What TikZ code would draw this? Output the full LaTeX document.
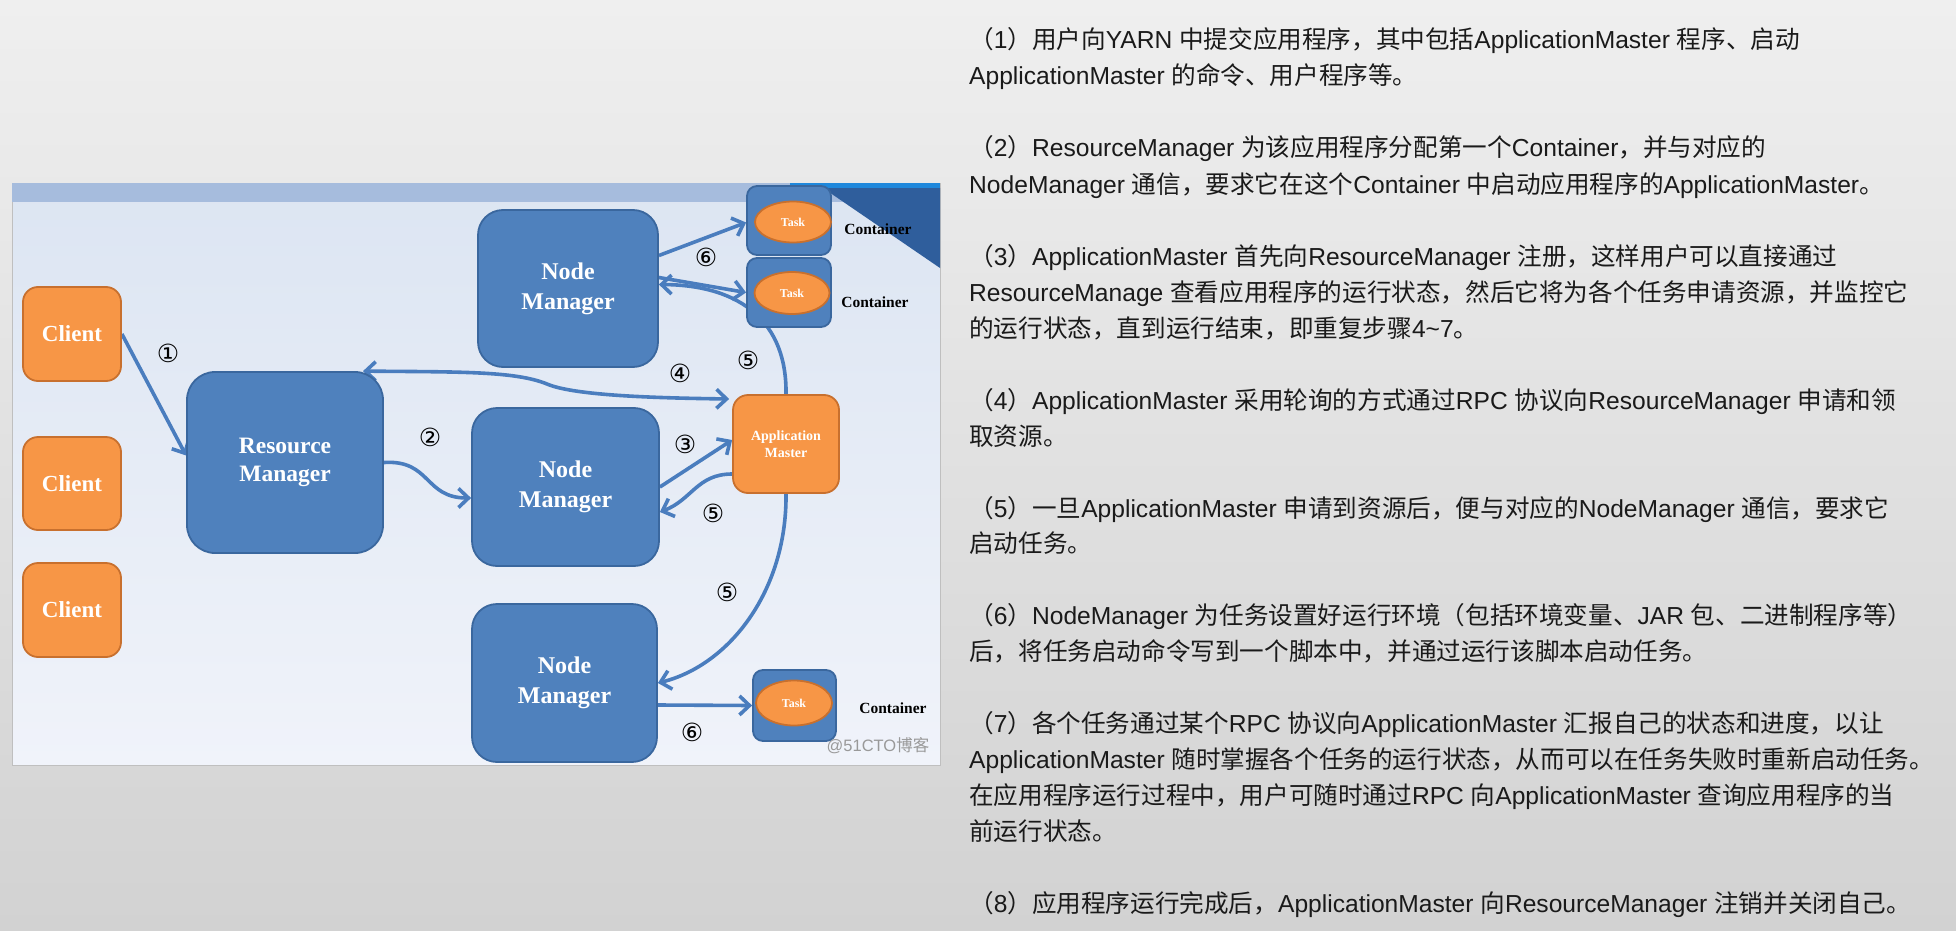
\documentclass[tikz,border=0pt]{standalone}
\usepackage{fontspec}
\setmainfont{Liberation Sans}
\newfontfamily\latinf{Liberation Sans}
\newfontfamily\cjkf{Noto Sans CJK SC}
\newfontfamily\serifb{Liberation Serif}
\newfontfamily\symf{DejaVu Sans}
\usetikzlibrary{arrows.meta,shapes.geometric,calc}
% automatic switch to the CJK font for CJK characters
\newXeTeXintercharclass\cjkcls
\newcount\cjkcnt
\cjkcnt="3000
\loop \XeTeXcharclass\cjkcnt=\cjkcls \ifnum\cjkcnt<"9FFF \advance\cjkcnt by 1 \repeat
\cjkcnt="FF00
\loop \XeTeXcharclass\cjkcnt=\cjkcls \ifnum\cjkcnt<"FFEF \advance\cjkcnt by 1 \repeat
\XeTeXinterchartoks 0 \cjkcls = {\cjkf}
\XeTeXinterchartoks 4095 \cjkcls = {\cjkf}
\XeTeXinterchartoks \cjkcls 0 = {\latinf}
\XeTeXinterchartoks \cjkcls 4095 = {\latinf}
\XeTeXinterchartokenstate=1

\definecolor{bgtop}{HTML}{EFEFEF}
\definecolor{bgbot}{HTML}{D2D2D2}
\definecolor{paneltop}{HTML}{DCE5F2}
\definecolor{panelbot}{HTML}{F0F3FA}
\definecolor{banner}{HTML}{A6BCDD}
\definecolor{brightblue}{HTML}{1F88DC}
\definecolor{darkblue}{HTML}{2F5E9C}
\definecolor{boxblue}{HTML}{4F81BD}
\definecolor{boxedge}{HTML}{3A679E}
\definecolor{orangeF}{HTML}{F79646}
\definecolor{orangeE}{HTML}{C8702E}
\definecolor{arrblue}{HTML}{4A7DBE}
\definecolor{txtcol}{HTML}{1A1A1A}

\pgfdeclarelayer{back}
\pgfdeclarelayer{arrowlayer}
\pgfsetlayers{back,arrowlayer,main}

\tikzset{
  bluebox/.style={draw=boxedge, fill=boxblue, line width=1.8pt, text=white,
    font=\serifb\bfseries\fontsize{23.5}{29}\selectfont, align=center, inner sep=0pt},
  orangebox/.style={draw=orangeE, fill=orangeF, line width=1.8pt, text=white,
    font=\serifb\bfseries\fontsize{23}{27}\selectfont, align=center, inner sep=0pt},
  contbox/.style={draw=boxedge, fill=boxblue, line width=1.8pt, rounded corners=10pt, inner sep=0pt},
  taskell/.style={ellipse, draw=orangeE, fill=orangeF, line width=1.8pt, inner sep=0pt,
    text=white, font=\serifb\bfseries\fontsize{12}{14}\selectfont},
  contlabel/.style={text=black, font=\serifb\bfseries\fontsize{15.5}{18}\selectfont, inner sep=0pt},
  num/.style={text=black, font=\symf\fontsize{25}{25}\selectfont, inner sep=0pt},
  arr/.style={draw=arrblue, line width=3.6pt, ->},
  txt/.style={anchor=base west, inner sep=0pt, text=txtcol, font=\latinf\fontsize{24.6}{30}\selectfont},
  >={Straight Barb[length=10pt,width=19pt]}
}

\begin{document}
\begin{tikzpicture}[x=1pt,y=-1pt]
\useasboundingbox (0,0) rectangle (1956,931);

\begin{pgfonlayer}{back}
  \shade[top color=bgtop, bottom color=bgbot] (0,0) rectangle (1956,931);
  \shade[top color=paneltop, bottom color=panelbot] (12,183) rectangle (940,765);
  \draw[color=black!25, line width=1pt] (12,183) rectangle (940,765);
  \fill[banner] (12,183) rectangle (940,202);
  \fill[brightblue] (790,183) rectangle (940,188);
  \fill[darkblue] (823,188) -- (940,188) -- (940,268) -- cycle;
\end{pgfonlayer}

% left-hand nodes
\node[orangebox, rounded corners=15pt, minimum width=98pt, minimum height=94pt] (c1) at (72,334) {Client};
\node[orangebox, rounded corners=15pt, minimum width=98pt, minimum height=93pt] (c2) at (72,483.5) {Client};
\node[orangebox, rounded corners=15pt, minimum width=98pt, minimum height=94pt] (c3) at (72,610) {Client};
\node[bluebox, rounded corners=28pt, minimum width=196pt, minimum height=181pt,
  font=\serifb\bfseries\fontsize{23.5}{28}\selectfont] (rm) at (285,462.5) {Resource\\Manager};
\node[bluebox, rounded corners=25pt, minimum width=180pt, minimum height=157pt,
  font=\serifb\bfseries\fontsize{24}{30}\selectfont] (nm1) at (568,288.5) {Node\\Manager};
\node[bluebox, rounded corners=25pt, minimum width=187pt, minimum height=158pt,
  font=\serifb\bfseries\fontsize{24}{30}\selectfont] (nm2) at (565.5,487) {Node\\Manager};
\node[bluebox, rounded corners=25pt, minimum width=185pt, minimum height=158pt,
  font=\serifb\bfseries\fontsize{24}{30}\selectfont] (nm3) at (564.5,683) {Node\\Manager};
\node[orangebox, rounded corners=15pt, minimum width=106pt, minimum height=98pt,
  font=\serifb\bfseries\fontsize{14}{17}\selectfont] (am) at (786,444) {Application\\Master};

% containers
\node[contbox, minimum width=84pt, minimum height=69pt] (k1) at (789,220.5) {};
\node[contbox, minimum width=84pt, minimum height=69pt] (k2) at (789,292.5) {};
\node[contbox, minimum width=83pt, minimum height=71pt] (k3) at (794.5,705.5) {};
\node[taskell, minimum width=76pt, minimum height=41pt] (t1) at (793,222) {Task};
\node[taskell, minimum width=75pt, minimum height=42pt] (t2) at (792,293) {Task};
\node[taskell, minimum width=76pt, minimum height=45pt] (t3) at (794,703) {Task};
\node[contlabel] (l1) at (878,229) {Container};
\node[contlabel] (l2) at (875,302) {Container};
\node[contlabel] (l3) at (893,708) {Container};

% connectors
\begin{pgfonlayer}{arrowlayer}
  \draw[arr] (c1.east) -- ([yshift=7pt]rm.west);
  \draw[arr] (rm.east) .. controls +(47,-3) and +(-47,0) .. ([yshift=-11pt]nm2.west);
  \draw[arr] (nm2.east) -- ([yshift=4pt]am.west);
  \draw[arr, <->] ([xshift=78pt]rm.north) .. controls (460,372) and (515,371) .. (547,384)
     .. controls (575,396) and (660,398) .. ([xshift=-3pt,yshift=45pt]am.west);
  \draw[arr] ([yshift=-30pt]am.west) .. controls +(-35,0) and +(32,-12) .. ([yshift=-25pt]nm2.east);
  \draw[arr] (am.north) .. controls (787,323) and (742,285) .. ([yshift=4pt]nm1.east);
  \draw[arr] (am.south) .. controls (787,590) and (730,665) .. (nm3.east);
  \draw[arr] ([yshift=33pt]nm1.east) -- ([yshift=-2pt]k1.west);
  \draw[arr] ([yshift=11pt]nm1.east) -- (k2.west);
  \draw[arr] ([yshift=-22pt]nm3.east) -- (k3.west);
\end{pgfonlayer}

% step numbers
\node[num] (n1) at (168,353) {①};
\node[num] (n2) at (430,437) {②};
\node[num] (n3) at (685,444) {③};
\node[num] (n4) at (680,373) {④};
\node[num] (n5a) at (748,360) {⑤};
\node[num] (n5b) at (713,513) {⑤};
\node[num] (n5c) at (727,592) {⑤};
\node[num] (n6a) at (706,257) {⑥};
\node[num] (n6b) at (692,732) {⑥};

\node[text=black!40, font=\latinf\fontsize{16.5}{18}\selectfont, inner sep=0pt] (wm) at (878,746) {@51CTO博客};

% explanatory text
\node[txt] (p1a) at (969,49) {（1）用户向YARN 中提交应用程序，其中包括ApplicationMaster 程序、启动};
\node[txt] (p1b) at (969,85) {ApplicationMaster 的命令、用户程序等。};
\node[txt] (p2a) at (969,157) {（2）ResourceManager 为该应用程序分配第一个Container，并与对应的};
\node[txt] (p2b) at (969,193) {NodeManager 通信，要求它在这个Container 中启动应用程序的ApplicationMaster。};
\node[txt] (p3a) at (969,265) {（3）ApplicationMaster 首先向ResourceManager 注册，这样用户可以直接通过};
\node[txt] (p3b) at (969,301) {ResourceManage 查看应用程序的运行状态，然后它将为各个任务申请资源，并监控它};
\node[txt] (p3c) at (969,337) {的运行状态，直到运行结束，即重复步骤4\textasciitilde 7。};
\node[txt] (p4a) at (969,409) {（4）ApplicationMaster 采用轮询的方式通过RPC 协议向ResourceManager 申请和领};
\node[txt] (p4b) at (969,445) {取资源。};
\node[txt] (p5a) at (969,517) {（5）一旦ApplicationMaster 申请到资源后，便与对应的NodeManager 通信，要求它};
\node[txt] (p5b) at (969,552) {启动任务。};
\node[txt] (p6a) at (969,624) {（6）NodeManager 为任务设置好运行环境（包括环境变量、JAR 包、二进制程序等）};
\node[txt] (p6b) at (969,660) {后，将任务启动命令写到一个脚本中，并通过运行该脚本启动任务。};
\node[txt] (p7a) at (969,732) {（7）各个任务通过某个RPC 协议向ApplicationMaster 汇报自己的状态和进度，以让};
\node[txt] (p7b) at (969,768) {ApplicationMaster 随时掌握各个任务的运行状态，从而可以在任务失败时重新启动任务。};
\node[txt] (p7c) at (969,804) {在应用程序运行过程中，用户可随时通过RPC 向ApplicationMaster 查询应用程序的当};
\node[txt] (p7d) at (969,840) {前运行状态。};
\node[txt] (p8a) at (969,912) {（8）应用程序运行完成后，ApplicationMaster 向ResourceManager 注销并关闭自己。};
\end{tikzpicture}
\end{document}
